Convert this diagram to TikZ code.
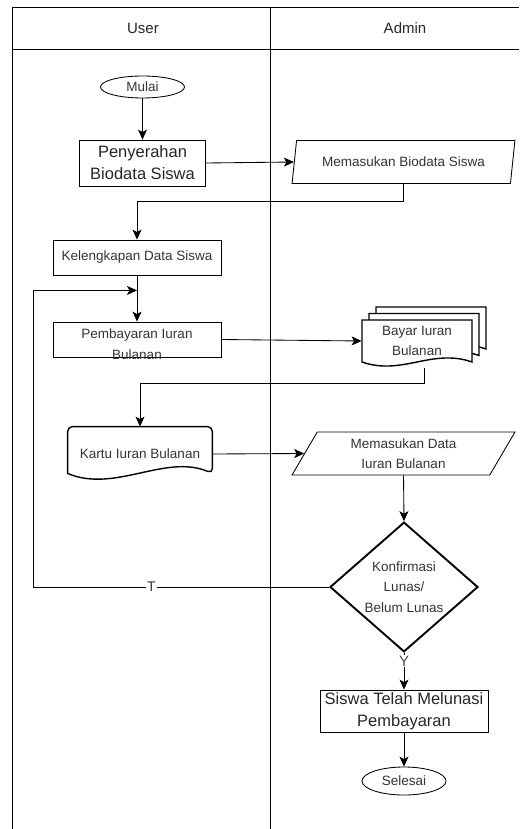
\documentclass[tikz,border=0pt]{standalone}
\usepackage{fontspec}
\setmainfont{Liberation Sans}
\usetikzlibrary{arrows.meta,shapes.geometric}

\tikzset{pics/wavedoc/.style={code={
  \draw[line width=1.4pt,fill=white] (-55,21) -- (-55,-21) -- (55,-21) -- (55,21)
    .. controls +(-40,-14) and +(40,14) .. (-55,21) -- cycle;}}}

\begin{document}
\begin{tikzpicture}
 [x=1pt,y=-1pt,line width=0.85pt,
  proc/.style={draw,rectangle,inner sep=0pt,align=center},
  io/.style={draw,trapezium,trapezium stretches=true,minimum width=223,minimum height=43,inner sep=0pt,align=center},
  term/.style={draw,ellipse,minimum width=84,inner sep=0pt},
  dec/.style={draw,diamond,line width=1.9pt,minimum width=148,minimum height=127,inner sep=0pt,align=center},
  sm/.style={font=\fontsize{13.5}{20.5}\selectfont,text=black!80},
  bg/.style={font=\fontsize{16.5}{22}\selectfont,text=black!85},
  arr/.style={-{Stealth[length=10pt,width=9pt,inset=2.5pt]}}]
 \useasboundingbox (0,0) rectangle (519,829);
 % lanes
 \draw (12,829) -- (12,7) -- (519,7);
 \draw (12,49) -- (519,49);
 \draw (270,7) -- (270,829);
 \node[font=\fontsize{15}{18}\selectfont,text=black!85] (user) at (143,28) {User};
 \node[font=\fontsize{15}{18}\selectfont,text=black!85] (admin) at (405,28) {Admin};
 % user lane
 \node[term,sm,minimum height=22] (mulai) at (142.5,87) {Mulai};
 \node[proc,bg,minimum width=126,minimum height=46] (peny) at (142.5,163) {Penyerahan\\Biodata Siswa};
 \node[proc,sm,minimum width=168,minimum height=35] (kel) at (137,257.5) {Kelengkapan Data Siswa};
 \node[proc,minimum width=168,minimum height=35] (pemb) at (137,339.5) {};
 \node[sm,align=center] (pembtxt) at (137,344) {Pembayaran Iuran\\Bulanan};
 \node[sm,minimum width=144,minimum height=54,inner sep=0pt] (kartu) at (140,454) {Kartu Iuran Bulanan};
 \draw[line width=1.4pt] ([yshift=8pt]kartu.south west)
   {[rounded corners=5pt] -- (kartu.north west) -- (kartu.north east) -- ([yshift=8pt]kartu.south east)}
   .. controls +(-47,-20) and +(47,20) .. ([yshift=8pt]kartu.south west) -- cycle;
 % admin lane
 \node[io,sm,trapezium left angle=71,trapezium right angle=109] (bio) at (403.5,162) {Memasukan Biodata Siswa};
 \pic at (431,328) {wavedoc};
 \pic at (424,334.5) {wavedoc};
 \pic at (417,341) {wavedoc};
 \node[sm,align=center,minimum width=110,minimum height=42,inner sep=0pt] (bayar) at (417,341) {Bayar Iuran\\Bulanan};
 \coordinate (bayarout) at (424,368);
 \node[io,sm,trapezium left angle=63,trapezium right angle=117] (data) at (403.5,453.5) {Memasukan Data\\Iuran Bulanan};
 \node[dec,sm] (konf) at (404,587) {Konfirmasi\\Lunas/\\Belum Lunas};
 \node[proc,bg,minimum width=168,minimum height=42] (sisw) at (404,711) {Siswa Telah Melunasi\\Pembayaran};
 \node[term,sm,minimum height=28] (selesai) at (404,781) {Selesai};
 \coordinate (lft) at (33,587);
 \coordinate (join) at ([yshift=-15pt]kel.south);
 % flow
 \draw[arr] (mulai) -- (peny);
 \draw[arr] (peny.east) -- (bio.west);
 \draw[arr] (bio.south) -- ++(0,17) -| (kel.north);
 \draw[arr] (kel) -- (pemb);
 \draw[arr] (pemb.east) -- (bayar.west);
 \draw[arr] (bayarout) -- ++(0,15) -| (kartu.north);
 \draw[arr] (kartu.east) -- (data.west);
 \draw[arr] (data.south) -- (konf.north);
 \draw[arr] (konf.west) -- node[pos=0.6,fill=white,inner sep=1pt,font=\fontsize{14}{16}\selectfont,text=black!80] (tlbl) {T} (lft) |- (join);
 \draw[arr] (konf.south) -- node[pos=0.22,fill=white,inner sep=1pt,font=\fontsize{15}{16}\selectfont,text=black!70] (ylbl) {Y} (sisw.north);
 \draw[arr] (sisw) -- (selesai);
\end{tikzpicture}
\end{document}
